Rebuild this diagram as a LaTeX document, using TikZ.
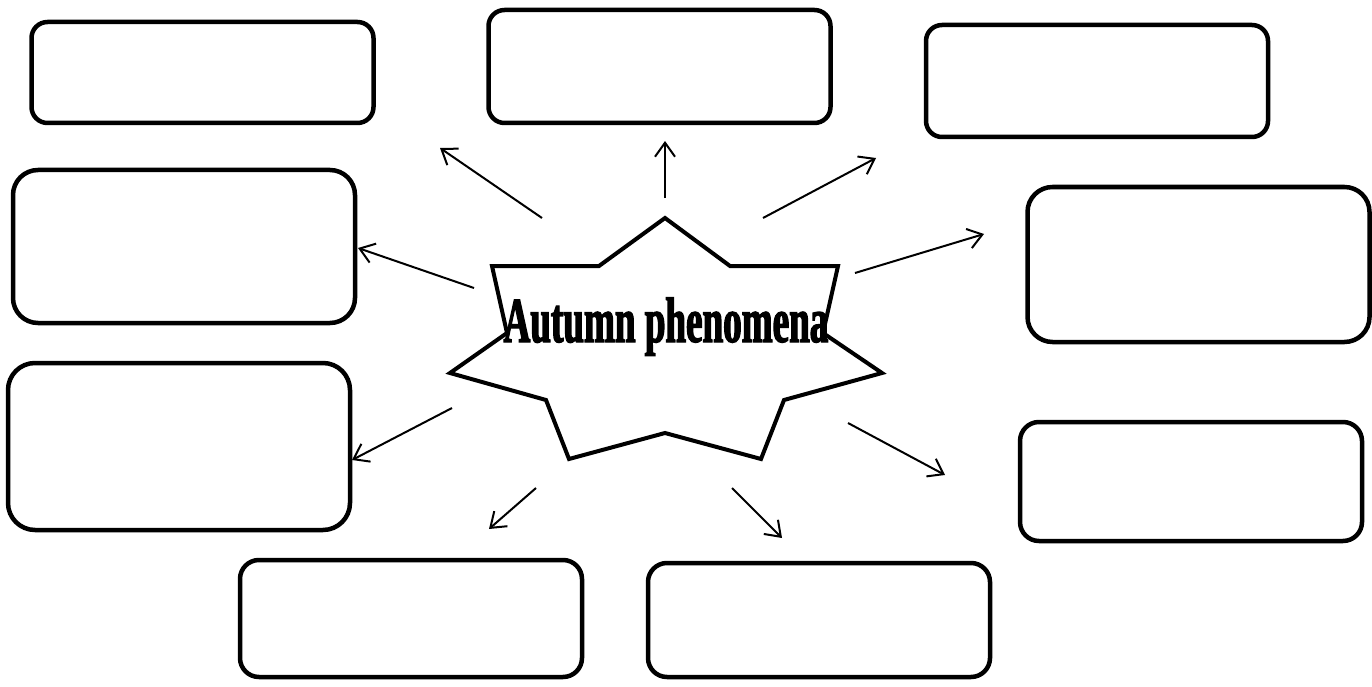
\documentclass[tikz,border=0pt]{standalone}
\usepackage{fontspec}
\usepackage{tikz}
\usetikzlibrary{arrows.meta}
\newfontfamily\startitle[FakeStretch=0.58, FakeBold=2]{Liberation Serif}
\tikzset{answerbox/.style={draw, line width=4.5pt, rounded corners=#1, 
                                   minimum width=342pt, inner sep=0pt},
         answerbox/.default=16pt,
         pointer/.style={line width=2pt, -{Straight Barb[length=14pt, width=20pt, line width=2pt]}},
         starline/.style={line width=4pt, line join=miter}}

\begin{document}
\begin{tikzpicture}[x=1pt, y=-1pt]
                \useasboundingbox (0,0) rectangle (1372,687);

                % star in the middle
                \draw[starline] (665,218) -- (730,266) -- (838,266) -- (823,333) -- (882,373)
                    -- (784,400) -- (761,459) -- (665,433) -- (569,459) -- (546,400)
                    -- (450,373) -- (507,333) -- (492,266) -- (599,266) -- cycle;
                \node[anchor=base, inner sep=0pt] (title) at (666,342)
                    {\startitle\bfseries\fontsize{64}{64}\selectfont Autumn phenomena};

                % boxes
                \node[answerbox] (b1) at (202.5,72.5) [minimum height=101pt] {};
                \node[answerbox] (b2) at (659.5,66.5) [minimum height=113pt] {};
                \node[answerbox] (b3) at (1097,81) [minimum height=112pt] {};
                \node[answerbox=25pt] (b4) at (184,246.5) [minimum height=153pt] {};
                \node[answerbox=25pt] (b5) at (1198.5,264.5) [minimum height=155pt] {};
                \node[answerbox=27pt] (b6) at (179,446.5) [minimum height=167pt] {};
                \node[answerbox=19pt] (b7) at (1191,481.5) [minimum height=119pt] {};
                \node[answerbox=19pt] (b8) at (411,618.5) [minimum height=117pt] {};
                \node[answerbox=19pt] (b9) at (819,620) [minimum height=114pt] {};

                % arrow ends
                \coordinate (s1) at (542,218);  \coordinate (t1) at (440,148);
                \coordinate (s2) at (665,198);  \coordinate (t2) at (665,141);
                \coordinate (s3) at (763,218);  \coordinate (t3) at (876,158);
                \coordinate (s4) at (855,273);  \coordinate (t4) at (984,234);
                \coordinate (s5) at (474,288);  \coordinate (t5) at (358,248);
                \coordinate (s6) at (452,408);  \coordinate (t6) at (352,460);
                \coordinate (s7) at (536,488);  \coordinate (t7) at (489,529);
                \coordinate (s8) at (732,488);  \coordinate (t8) at (782,538);
                \coordinate (s9) at (848,423);  \coordinate (t9) at (945,475);

                \foreach \i in {1,...,9}
                    \draw[pointer] (s\i) -- (t\i);
\end{tikzpicture}
\end{document}
